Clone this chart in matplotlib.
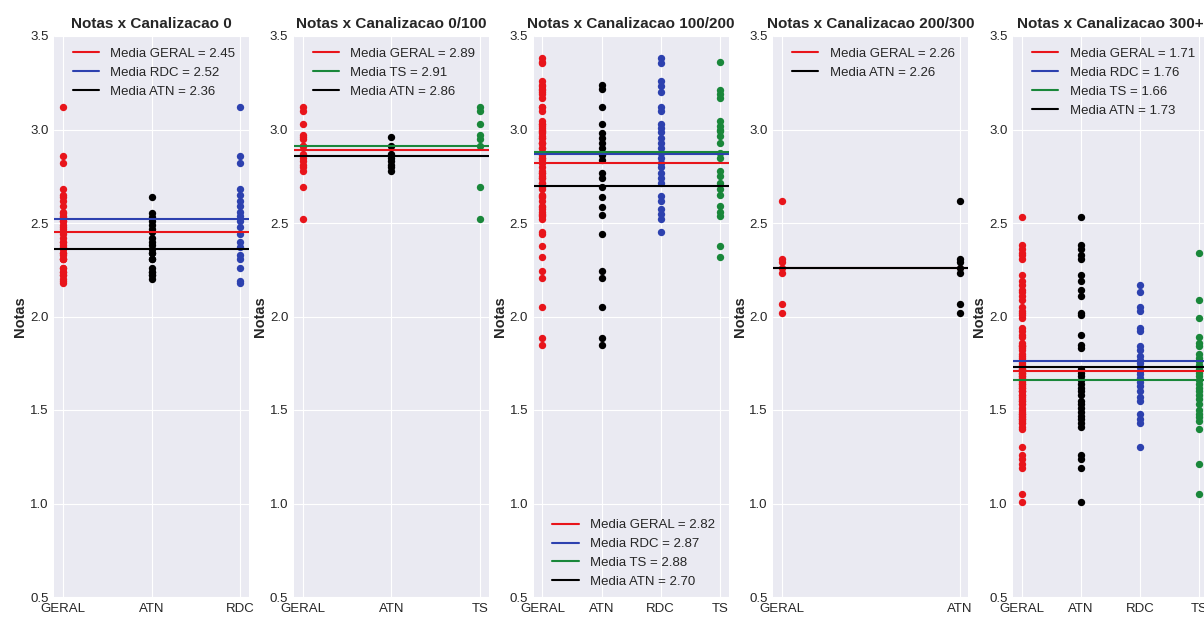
import matplotlib
matplotlib.use('Agg')
import matplotlib.pyplot as plt
import numpy as np

plt.style.use('seaborn-v0_8-darkgrid')
plt.rcParams['font.family'] = ['Liberation Sans', 'DejaVu Sans']

cores = {'GERAL': '#E8151B', 'ATN': '#000000', 'RDC': '#2D41AF', 'TS': '#19873A'}

titulos = ['Notas x Canalizacao 0', 'Notas x Canalizacao 0/100',
           'Notas x Canalizacao 100/200', 'Notas x Canalizacao 200/300',
           'Notas x Canalizacao 300+']

# canalizacao 0
c0_atn = [2.64, 2.555, 2.53, 2.51, 2.49, 2.47, 2.45, 2.42, 2.40, 2.38, 2.36,
          2.34, 2.31, 2.26, 2.24, 2.22, 2.20, 2.24, 2.22, 2.31, 2.34]
c0_rdc = [3.12, 2.86, 2.82, 2.68, 2.65, 2.62, 2.59, 2.56, 2.54, 2.51, 2.48,
          2.44, 2.40, 2.37, 2.33, 2.31, 2.26, 2.19, 2.18]
c0_medias = [2.45, 2.52, 2.36]
c0_legenda = ['GERAL', 'RDC', 'ATN']

# canalizacao 0/100
c1_atn = [2.96, 2.91, 2.87, 2.85, 2.83, 2.81, 2.80, 2.78]
c1_ts = [3.12, 3.10, 3.03, 2.97, 2.95, 2.91, 2.69, 2.52]
c1_medias = [2.89, 2.91, 2.86]
c1_legenda = ['GERAL', 'TS', 'ATN']

# canalizacao 100/200
c2_atn = [3.24, 3.215, 3.12, 3.03, 2.98, 2.955, 2.93, 2.90, 2.865, 2.835,
          2.765, 2.74, 2.69, 2.64, 2.585, 2.545, 2.44, 2.245, 2.205, 2.05,
          1.885, 1.845]
c2_rdc = [3.38, 3.355, 3.26, 3.23, 3.20, 3.12, 3.10, 3.03, 3.01, 2.985,
          2.955, 2.93, 2.90, 2.875, 2.85, 2.82, 2.80, 2.77, 2.74, 2.715,
          2.645, 2.62, 2.575, 2.55, 2.52, 2.45]
c2_ts = [3.36, 3.21, 3.17, 3.19, 3.045, 3.02, 3.00, 2.99, 2.965, 2.93, 2.875,
         2.85, 2.78, 2.75, 2.715, 2.68, 2.65, 2.59, 2.56, 2.54, 2.375, 2.32]
c2_medias = [2.82, 2.87, 2.88, 2.70]
c2_legenda = ['GERAL', 'RDC', 'TS', 'ATN']

# canalizacao 200/300
c3_atn = [2.62, 2.31, 2.29, 2.26, 2.235, 2.065, 2.02]
c3_medias = [2.26, 2.26]
c3_legenda = ['GERAL', 'ATN']

# canalizacao 300+
c4_atn = [2.53, 2.385, 2.36, 2.33, 2.31, 2.22, 2.19, 2.14, 2.11, 2.02, 2.01,
          1.90, 1.85, 1.83, 1.72, 1.70, 1.68, 1.66, 1.64, 1.62, 1.60, 1.58,
          1.55, 1.53, 1.51, 1.49, 1.47, 1.45, 1.43, 1.41, 1.26, 1.24, 1.19,
          1.01]
c4_rdc = [2.17, 2.13, 2.05, 2.03, 1.94, 1.92, 1.84, 1.82, 1.79, 1.77, 1.75,
          1.73, 1.71, 1.69, 1.67, 1.65, 1.63, 1.60, 1.57, 1.55, 1.48, 1.45,
          1.43, 1.30]
c4_ts = [2.34, 2.09, 1.99, 1.89, 1.86, 1.84, 1.80, 1.78, 1.76, 1.74, 1.72,
         1.70, 1.68, 1.66, 1.64, 1.62, 1.60, 1.58, 1.56, 1.53, 1.50, 1.48,
         1.46, 1.44, 1.40, 1.21, 1.05]
c4_medias = [1.71, 1.76, 1.66, 1.73]
c4_legenda = ['GERAL', 'RDC', 'TS', 'ATN']

# GERAL junta todos os grupos da canalizacao
paineis = [
    {'GERAL': c0_atn + c0_rdc, 'ATN': c0_atn, 'RDC': c0_rdc},
    {'GERAL': c1_atn + c1_ts, 'ATN': c1_atn, 'TS': c1_ts},
    {'GERAL': c2_atn + c2_rdc + c2_ts, 'ATN': c2_atn, 'RDC': c2_rdc, 'TS': c2_ts},
    {'GERAL': c3_atn, 'ATN': c3_atn},
    {'GERAL': c4_atn + c4_rdc + c4_ts, 'ATN': c4_atn, 'RDC': c4_rdc, 'TS': c4_ts},
]
medias = [c0_medias, c1_medias, c2_medias, c3_medias, c4_medias]
legendas = [c0_legenda, c1_legenda, c2_legenda, c3_legenda, c4_legenda]
pos_legenda = ['upper left', 'upper left', 'lower left', 'upper left', 'upper left']

W, H = 1204, 617
fig = plt.figure(figsize=(W / 100, H / 100), dpi=100)

for i in range(5):
    ax = fig.add_axes([(54 + 239.8 * i) / W, 20 / H, 195 / W, 561 / H])
    for cat, notas in paineis[i].items():
        ax.scatter([cat] * len(notas), notas, color=cores[cat], s=28,
                   linewidths=0, zorder=2)
    for nome, m in zip(legendas[i], medias[i]):
        ax.axhline(m, color=cores[nome], lw=1.5, zorder=3,
                   label='Media %s = %.2f' % (nome, m))
    ax.set_ylim(0.5, 3.5)
    ax.set_yticks(np.arange(0.5, 3.51, 0.5))
    ax.tick_params(labelsize=9.5, pad=4)
    ax.set_title(titulos[i], fontweight='bold', fontsize=11)
    ax.set_ylabel('Notas', fontweight='bold', fontsize=10.5, labelpad=2)
    ancora = (0.035, 1.0) if pos_legenda[i] == 'upper left' else (0.035, -0.005)
    ax.legend(loc=pos_legenda[i], bbox_to_anchor=ancora, fontsize=9.5,
              handletextpad=0.85)

fig.savefig('out.png', dpi=100)
